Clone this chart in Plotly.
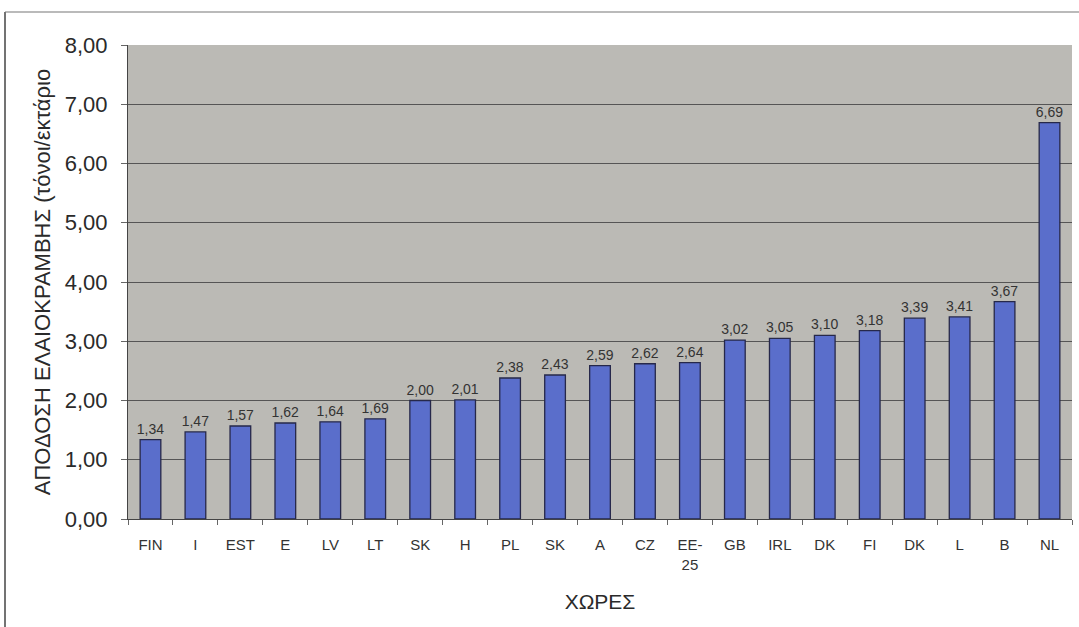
import plotly.graph_objects as go

# Rapeseed yield per country (tonnes/hectare)
countries = ["FIN", "I", "EST", "E", "LV", "LT", "SK", "H", "PL", "SK", "A",
             "CZ", "ΕΕ-<br>25", "GB", "IRL", "DK", "FI", "DK", "L", "B", "NL"]
yields = [1.34, 1.47, 1.57, 1.62, 1.64, 1.69, 2.00, 2.01, 2.38, 2.43, 2.59,
          2.62, 2.64, 3.02, 3.05, 3.10, 3.18, 3.39, 3.41, 3.67, 6.69]
y_ticks = [0, 1, 2, 3, 4, 5, 6, 7, 8]

W, H = 1079, 627
ML, MR, MT, MB = 128, 7, 45, 108

positions = list(range(len(countries)))
labels = [f"{v:.2f}".replace(".", ",") for v in yields]

fig = go.Figure()
fig.add_trace(go.Bar(
    x=positions,
    y=yields,
    width=0.46,
    marker=dict(color="#5a6ecb", line=dict(color="#26284a", width=1.3)),
    text=labels,
    textposition="outside",
    constraintext="none",
    textfont=dict(family="Liberation Sans, Arial", size=14, color="#333333"),
    cliponaxis=False,
    hoverinfo="skip",
))

# outer frame of the chart
pw = W - ML - MR
ph = H - MT - MB
px = lambda p: (p - ML) / pw
py = lambda p: (H - MB - p) / ph
fig.add_shape(type="line", xref="paper", yref="paper",
              x0=px(5), x1=px(5), y0=py(12), y1=py(H + 5),
              line=dict(color="#444444", width=1.5))
fig.add_shape(type="line", xref="paper", yref="paper",
              x0=px(5), x1=px(W + 5), y0=py(12), y1=py(12),
              line=dict(color="#777777", width=1.2))

fig.update_layout(
    width=W, height=H,
    margin=dict(l=ML, r=MR, t=MT, b=MB),
    paper_bgcolor="white",
    plot_bgcolor="#bbbab5",
    separators=",.",
    showlegend=False,
    font=dict(family="Liberation Sans, Arial", color="#2a2a2a"),
    xaxis=dict(
        range=[-0.5, len(countries) - 0.5],
        tickvals=positions,
        ticktext=countries,
        ticks="",
        ticklabelstandoff=12,
        tickfont=dict(size=15, color="#333333"),
        showgrid=False,
        zeroline=False,
        showline=True, linecolor="#444444", linewidth=1,
        minor=dict(tickvals=[p - 0.5 for p in positions] + [len(countries) - 0.5],
                   ticks="outside", ticklen=5, tickcolor="#666666", showgrid=False),
        title=dict(text="ΧΩΡΕΣ", font=dict(size=21, color="#2a2a2a"), standoff=22),
    ),
    yaxis=dict(
        range=[0, 8],
        tickvals=y_ticks,
        tickformat=".2f",
        ticks="outside", ticklen=6, tickcolor="#666666",
        ticklabelstandoff=9,
        tickfont=dict(size=22, color="#2a2a2a"),
        showgrid=True, gridcolor="#555555", gridwidth=1,
        zeroline=False,
        showline=True, linecolor="#444444", linewidth=1,
        title=dict(text="ΑΠΟΔΟΣΗ ΕΛΑΙΟΚΡΑΜΒΗΣ (τόνοι/εκτάριο",
                   font=dict(size=22, color="#2a2a2a"), standoff=8),
    ),
)

fig.write_html("out.html")
